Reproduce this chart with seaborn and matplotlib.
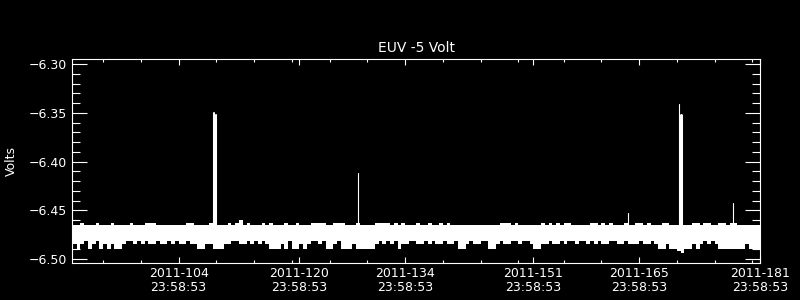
import numpy as np
import pandas as pd
import matplotlib
matplotlib.use("Agg")
import matplotlib.pyplot as plt
import seaborn as sns
from matplotlib.ticker import FixedLocator, MultipleLocator, FuncFormatter

# ---------------- data ----------------
band_start_day = 91.0      # day-of-year 2011-091 00:00
band_step_days = 0.5       # one envelope sample per half day

band_upper = [
    -6.4651, -6.4651, -6.4627, -6.4651, -6.4651, -6.4651, -6.4627, -6.4651, -6.4651, -6.4651,
    -6.4627, -6.4651, -6.4651, -6.4651, -6.4651, -6.4627, -6.4651, -6.4651, -6.4651, -6.4627,
    -6.4627, -6.4627, -6.4651, -6.4651, -6.4651, -6.4651, -6.4651, -6.4651, -6.4651, -6.4651,
    -6.4627, -6.4627, -6.4651, -6.4651, -6.4651, -6.4651, -6.4627, -6.4651, -6.4651, -6.4651,
    -6.4651, -6.4627, -6.4651, -6.4627, -6.4600, -6.4651, -6.4627, -6.4651, -6.4651, -6.4651,
    -6.4627, -6.4651, -6.4627, -6.4651, -6.4651, -6.4651, -6.4627, -6.4651, -6.4651, -6.4627,
    -6.4651, -6.4651, -6.4651, -6.4627, -6.4627, -6.4627, -6.4627, -6.4651, -6.4651, -6.4627,
    -6.4627, -6.4627, -6.4651, -6.4651, -6.4651, -6.4627, -6.4651, -6.4651, -6.4651, -6.4651,
    -6.4627, -6.4627, -6.4627, -6.4627, -6.4651, -6.4627, -6.4651, -6.4627, -6.4651, -6.4651,
    -6.4651, -6.4627, -6.4651, -6.4651, -6.4627, -6.4651, -6.4651, -6.4627, -6.4651, -6.4627,
    -6.4651, -6.4651, -6.4651, -6.4651, -6.4651, -6.4651, -6.4651, -6.4651, -6.4651, -6.4651,
    -6.4651, -6.4651, -6.4651, -6.4627, -6.4627, -6.4627, -6.4651, -6.4627, -6.4651, -6.4651,
    -6.4651, -6.4651, -6.4651, -6.4651, -6.4627, -6.4651, -6.4627, -6.4651, -6.4627, -6.4651,
    -6.4627, -6.4627, -6.4651, -6.4651, -6.4651, -6.4651, -6.4651, -6.4627, -6.4627, -6.4651,
    -6.4627, -6.4651, -6.4627, -6.4651, -6.4651, -6.4651, -6.4627, -6.4651, -6.4651, -6.4627,
    -6.4627, -6.4651, -6.4627, -6.4651, -6.4651, -6.4651, -6.4627, -6.4627, -6.4651, -6.4651,
    -6.4651, -6.4651, -6.4651, -6.4651, -6.4627, -6.4627, -6.4651, -6.4627, -6.4627, -6.4651,
    -6.4651, -6.4627, -6.4627, -6.4651, -6.4627, -6.4627, -6.4651, -6.4651, -6.4651, -6.4651,
    -6.4651, -6.4651,
]

band_lower = [
    -6.4849, -6.4894, -6.4849, -6.4810, -6.4894, -6.4849, -6.4810, -6.4894, -6.4849, -6.4894,
    -6.4849, -6.4894, -6.4894, -6.4849, -6.4810, -6.4810, -6.4849, -6.4810, -6.4849, -6.4810,
    -6.4849, -6.4849, -6.4810, -6.4849, -6.4849, -6.4810, -6.4849, -6.4810, -6.4849, -6.4849,
    -6.4810, -6.4849, -6.4849, -6.4894, -6.4894, -6.4849, -6.4849, -6.4894, -6.4894, -6.4894,
    -6.4849, -6.4849, -6.4810, -6.4810, -6.4849, -6.4849, -6.4810, -6.4849, -6.4810, -6.4849,
    -6.4810, -6.4849, -6.4894, -6.4894, -6.4894, -6.4849, -6.4894, -6.4810, -6.4894, -6.4894,
    -6.4849, -6.4894, -6.4849, -6.4810, -6.4810, -6.4849, -6.4810, -6.4894, -6.4894, -6.4849,
    -6.4810, -6.4894, -6.4894, -6.4894, -6.4849, -6.4894, -6.4894, -6.4894, -6.4894, -6.4894,
    -6.4849, -6.4810, -6.4849, -6.4810, -6.4849, -6.4810, -6.4894, -6.4849, -6.4849, -6.4810,
    -6.4810, -6.4849, -6.4849, -6.4810, -6.4849, -6.4810, -6.4849, -6.4849, -6.4810, -6.4849,
    -6.4849, -6.4810, -6.4894, -6.4894, -6.4849, -6.4810, -6.4849, -6.4849, -6.4810, -6.4810,
    -6.4894, -6.4894, -6.4849, -6.4810, -6.4849, -6.4849, -6.4810, -6.4810, -6.4849, -6.4810,
    -6.4810, -6.4849, -6.4894, -6.4894, -6.4849, -6.4849, -6.4810, -6.4849, -6.4849, -6.4810,
    -6.4849, -6.4810, -6.4810, -6.4849, -6.4810, -6.4810, -6.4849, -6.4810, -6.4849, -6.4810,
    -6.4849, -6.4849, -6.4810, -6.4810, -6.4849, -6.4849, -6.4810, -6.4849, -6.4849, -6.4849,
    -6.4810, -6.4849, -6.4849, -6.4810, -6.4849, -6.4894, -6.4894, -6.4849, -6.4894, -6.4894,
    -6.4915, -6.4940, -6.4894, -6.4894, -6.4849, -6.4894, -6.4849, -6.4810, -6.4849, -6.4810,
    -6.4849, -6.4894, -6.4894, -6.4894, -6.4894, -6.4894, -6.4894, -6.4894, -6.4849, -6.4894,
    -6.4894, -6.4894,
]

spike_days = [109.63, 109.89, 128.78, 164.53, 171.33, 171.55, 178.43]
spike_peaks = [-6.3503, -6.3524, -6.4117, -6.4524, -6.3409, -6.3524, -6.4428]
spike_base = -6.470

tick_days = [104.9992, 120.9992, 134.9992, 151.9992, 165.9992, 181.9992]
tick_labels = ["2011-104\n23:58:53", "2011-120\n23:58:53", "2011-134\n23:58:53",
               "2011-151\n23:58:53", "2011-165\n23:58:53", "2011-181\n23:58:53"]
minor_tick_days = [95, 100, 110, 115, 120, 125, 130, 140, 145, 150,
                   156, 161, 171, 176, 181]

title_text = "EUV -5 Volt"
y_label = "Volts"

# ---------------- styling ----------------
sns.set_theme(style="ticks", rc={
    "figure.facecolor": "black",
    "axes.facecolor": "black",
    "axes.edgecolor": "white",
    "axes.labelcolor": "white",
    "text.color": "white",
    "xtick.color": "white",
    "ytick.color": "white",
    "axes.linewidth": 0.8,
})
plt.rcParams["font.family"] = ["DejaVu Sans"]

fig = plt.figure(figsize=(8, 3), dpi=100, facecolor="black")
ax = fig.add_axes([72 / 800, 1 - 263 / 300, 688 / 800, 204 / 300])
ax.set_facecolor("black")

# band (min..max envelope) drawn by seaborn as a percentile-100 band
days = band_start_day + band_step_days * np.arange(len(band_upper))
edge_days = np.append(days, days[-1] + band_step_days)
up = band_upper + [band_upper[-1]]
lo = band_lower + [band_lower[-1]]
band_df = pd.DataFrame({
    "day": np.concatenate([edge_days, edge_days]),
    "volts": np.concatenate([up, lo]),
})
sns.lineplot(data=band_df, x="day", y="volts", estimator="mean",
             errorbar=("pi", 100), color="white", linewidth=0, ax=ax,
             err_kws=dict(alpha=1, step="post", linewidth=0, edgecolor="none"))

# spikes
spike_widths = [1.5, 1.5, 0.8, 0.8, 0.8, 2.2, 0.8]
spk_df = pd.DataFrame({
    "day": np.repeat(spike_days, 2),
    "volts": np.ravel(np.column_stack([[spike_base] * len(spike_peaks), spike_peaks])),
    "sid": np.repeat(np.arange(len(spike_days)), 2),
})
for k, w in enumerate(spike_widths):
    sns.lineplot(data=spk_df[spk_df["sid"] == k], x="day", y="volts",
                 estimator=None, sort=False, color="white", linewidth=w, ax=ax)

ax.set_xlim(90.88, 182.0)
ax.set_ylim(-6.5041, -6.2946)

ax.xaxis.set_major_locator(FixedLocator(tick_days))
ax.set_xticklabels(tick_labels, fontsize=9, linespacing=1.05)
ax.xaxis.set_minor_locator(FixedLocator(minor_tick_days))
ax.yaxis.set_major_locator(MultipleLocator(0.05))
ax.yaxis.set_minor_locator(MultipleLocator(0.01))
ax.yaxis.set_major_formatter(FuncFormatter(
    lambda v, p: ("\u2212" if v < 0 else "") + f"{abs(v):.2f}"))

ax.tick_params(axis="both", which="both", direction="in", top=True, right=True,
               colors="white", labelcolor="white", width=0.8, labelsize=9)
ax.tick_params(axis="y", which="major", length=10.6, pad=3.4)
ax.tick_params(axis="y", which="minor", length=5.8)
ax.tick_params(axis="x", which="major", length=4.5, pad=3)
ax.tick_params(axis="x", which="minor", length=2.4)

for s in ax.spines.values():
    s.set_color("white")
    s.set_linewidth(0.8)
    s.set_visible(True)

ax.set_xlabel("")
ax.set_ylabel(y_label, fontsize=9, color="white", labelpad=8)
ax.set_title(title_text, fontsize=10, color="white", pad=5)

fig.savefig("out.png", dpi=100, facecolor="black")
